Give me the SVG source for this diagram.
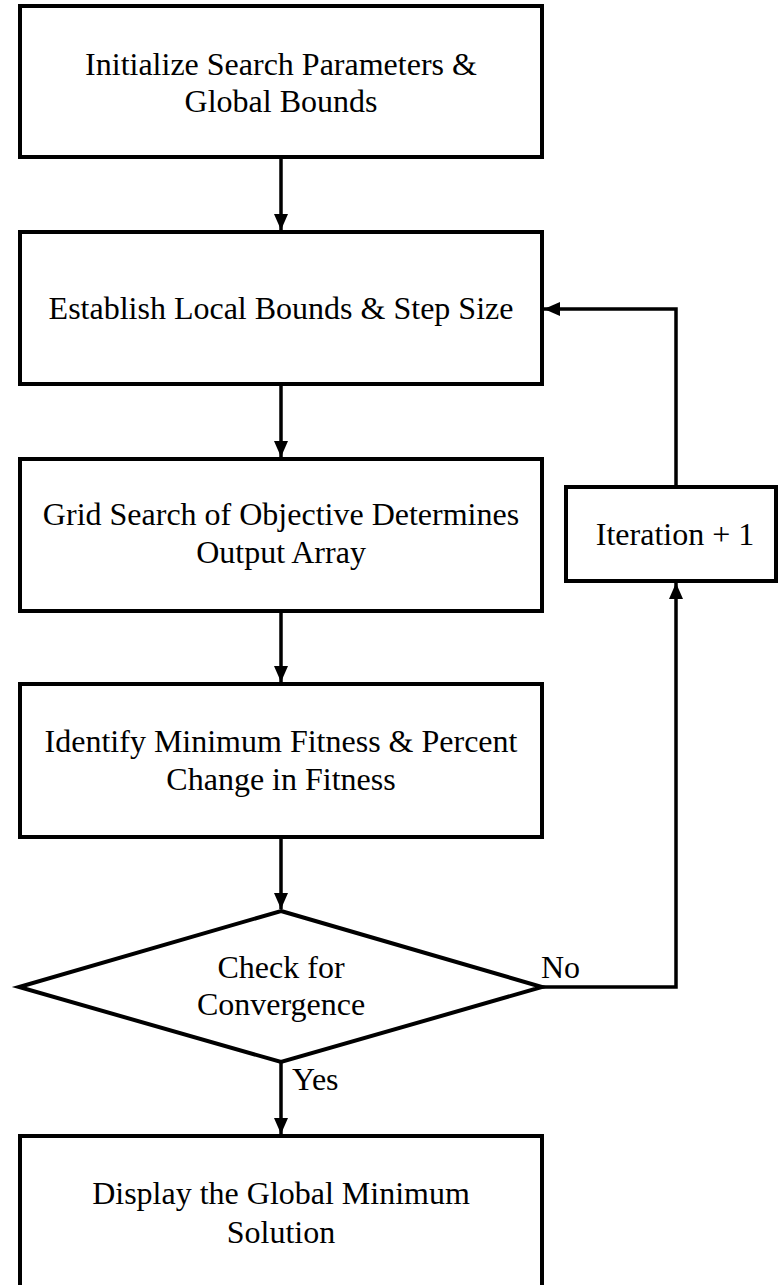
<svg xmlns="http://www.w3.org/2000/svg" width="778" height="1285" viewBox="0 0 778 1285">
<style>
.box{fill:#fff;stroke:#000;stroke-width:4}
.t{font-family:"Liberation Serif","Times New Roman",serif;font-size:32px;fill:#000;text-anchor:middle}
.l{font-family:"Liberation Serif","Times New Roman",serif;font-size:32px;fill:#000}
.c{fill:none;stroke:#000;stroke-width:3.5}
</style>
<defs>
<marker id="arr" markerUnits="userSpaceOnUse" markerWidth="16" markerHeight="16" viewBox="0 0 16 16" refX="16" refY="8" orient="auto">
<path d="M0,1 L16,8 L0,15 Z" fill="#000"/>
</marker>
</defs>
<rect width="778" height="1285" fill="#fff"/>
<g id="connectors">
<line class="c" x1="281" y1="157" x2="281" y2="230" marker-end="url(#arr)"/>
<line class="c" x1="281" y1="384" x2="281" y2="457" marker-end="url(#arr)"/>
<line class="c" x1="281" y1="611" x2="281" y2="682" marker-end="url(#arr)"/>
<line class="c" x1="281" y1="837" x2="281" y2="909" marker-end="url(#arr)"/>
<line class="c" x1="281" y1="1062" x2="281" y2="1134" marker-end="url(#arr)"/>
<polyline class="c" points="542,987 676,987 676,583" marker-end="url(#arr)"/>
<polyline class="c" points="676,487 676,309 544,309" marker-end="url(#arr)"/>
<text class="l" x="292" y="1090">Yes</text>
<text class="l" x="541" y="978">No</text>
</g>
<g id="n1">
<rect class="box" x="20" y="6" width="522" height="151"/>
<text class="t" x="281" y="75">Initialize Search Parameters &amp;</text>
<text class="t" x="281" y="112">Global Bounds</text>
</g>
<g id="n2">
<rect class="box" x="20" y="232" width="522" height="152"/>
<text class="t" x="281" y="319">Establish Local Bounds &amp; Step Size</text>
</g>
<g id="n3">
<rect class="box" x="20" y="459" width="522" height="152"/>
<text class="t" x="281" y="525">Grid Search of Objective Determines</text>
<text class="t" x="281" y="563">Output Array</text>
</g>
<g id="n4">
<rect class="box" x="20" y="684" width="522" height="153"/>
<text class="t" x="281" y="752">Identify Minimum Fitness &amp; Percent</text>
<text class="t" x="281" y="790">Change in Fitness</text>
</g>
<g id="n5">
<polygon class="box" points="281,911 542,987 281,1062 19,987"/>
<text class="t" x="281" y="978">Check for</text>
<text class="t" x="281" y="1015">Convergence</text>
</g>
<g id="n6">
<rect class="box" x="20" y="1136" width="522" height="160"/>
<text class="t" x="281" y="1204">Display the Global Minimum</text>
<text class="t" x="281" y="1243">Solution</text>
</g>
<g id="n7">
<rect class="box" x="566" y="487" width="210" height="94"/>
<text class="t" x="675" y="545">Iteration + 1</text>
</g>
</svg>
